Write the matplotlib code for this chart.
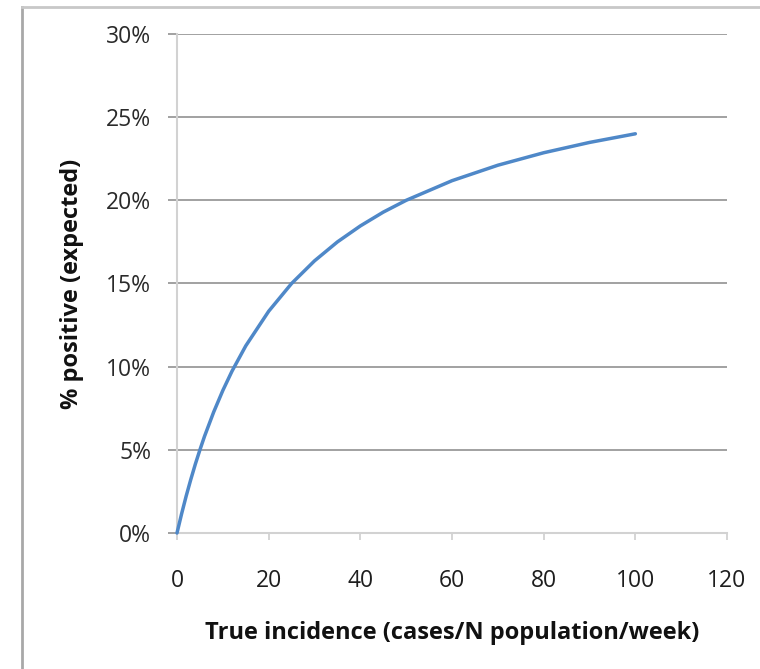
import matplotlib
matplotlib.use("Agg")
import matplotlib.pyplot as plt
from matplotlib.lines import Line2D
from matplotlib.ticker import FuncFormatter

# True incidence (cases / N population / week) and expected share of positive tests
incidence = [0, 1, 2, 3, 4, 5, 6, 8, 10, 12, 15, 20, 25, 30, 35, 40, 45, 50,
             60, 70, 80, 90, 100]
pct_positive = [0.0, 1.15, 2.22, 3.21, 4.14, 5.0, 5.81, 7.27, 8.57, 9.73, 11.25,
                13.33, 15.0, 16.36, 17.5, 18.46, 19.29, 20.0, 21.18, 22.11,
                22.86, 23.48, 24.0]

x_ticks = [0, 20, 40, 60, 80, 100, 120]
y_ticks = [0, 5, 10, 15, 20, 25, 30]

plt.rcParams['font.family'] = ['Open Sans', 'DejaVu Sans']

fig = plt.figure(figsize=(7.6, 6.69), dpi=100)
ax = fig.add_axes([0.2329, 0.2033, 0.7237, 0.7459])

grid_col = '#9a9a9a'
axis_col = '#d2d2d2'

ax.set_xlim(0, 120)
ax.set_ylim(0, 30)
ax.set_xticks(x_ticks)
ax.set_yticks(y_ticks)
ax.yaxis.set_major_formatter(FuncFormatter(lambda v, p: f"{v:.0f}%"))

# horizontal gridlines, with the y tick marks extending left of the axis
ax.grid(axis='y', color=grid_col, linewidth=1.3)
ax.grid(axis='x', visible=False)
ax.set_axisbelow(True)
ax.tick_params(axis='y', length=6.5, width=1.3, color=grid_col, pad=12,
               labelsize=16.5, labelcolor='#2a2a2a')
ax.tick_params(axis='x', length=5, width=1.3, color=axis_col, pad=21,
               labelsize=16.5, labelcolor='#1e1e1e')

for side in ('top', 'right'):
    ax.spines[side].set_visible(False)
for side in ('left', 'bottom'):
    ax.spines[side].set_color(axis_col)
    ax.spines[side].set_linewidth(1.5)

ax.plot(incidence, pct_positive, color='#4f88c8', linewidth=2.5,
        solid_capstyle='round', zorder=3, clip_on=False)

ax.set_xlabel('True incidence (cases/N population/week)', fontsize=17,
              fontweight='bold', labelpad=20, color='#111111')
ax.set_ylabel('% positive (expected)', fontsize=17, fontweight='bold',
              labelpad=16, color='#111111')

# outer chart frame (left and top edges)
fig.add_artist(Line2D([22 / 760, 22 / 760], [0, 1 - 7 / 669],
                      transform=fig.transFigure, color='#a8a8a8', linewidth=2))
fig.add_artist(Line2D([22 / 760, 1], [1 - 7 / 669, 1 - 7 / 669],
                      transform=fig.transFigure, color='#c8c8c8', linewidth=2))

fig.savefig('out.png', dpi=100)
